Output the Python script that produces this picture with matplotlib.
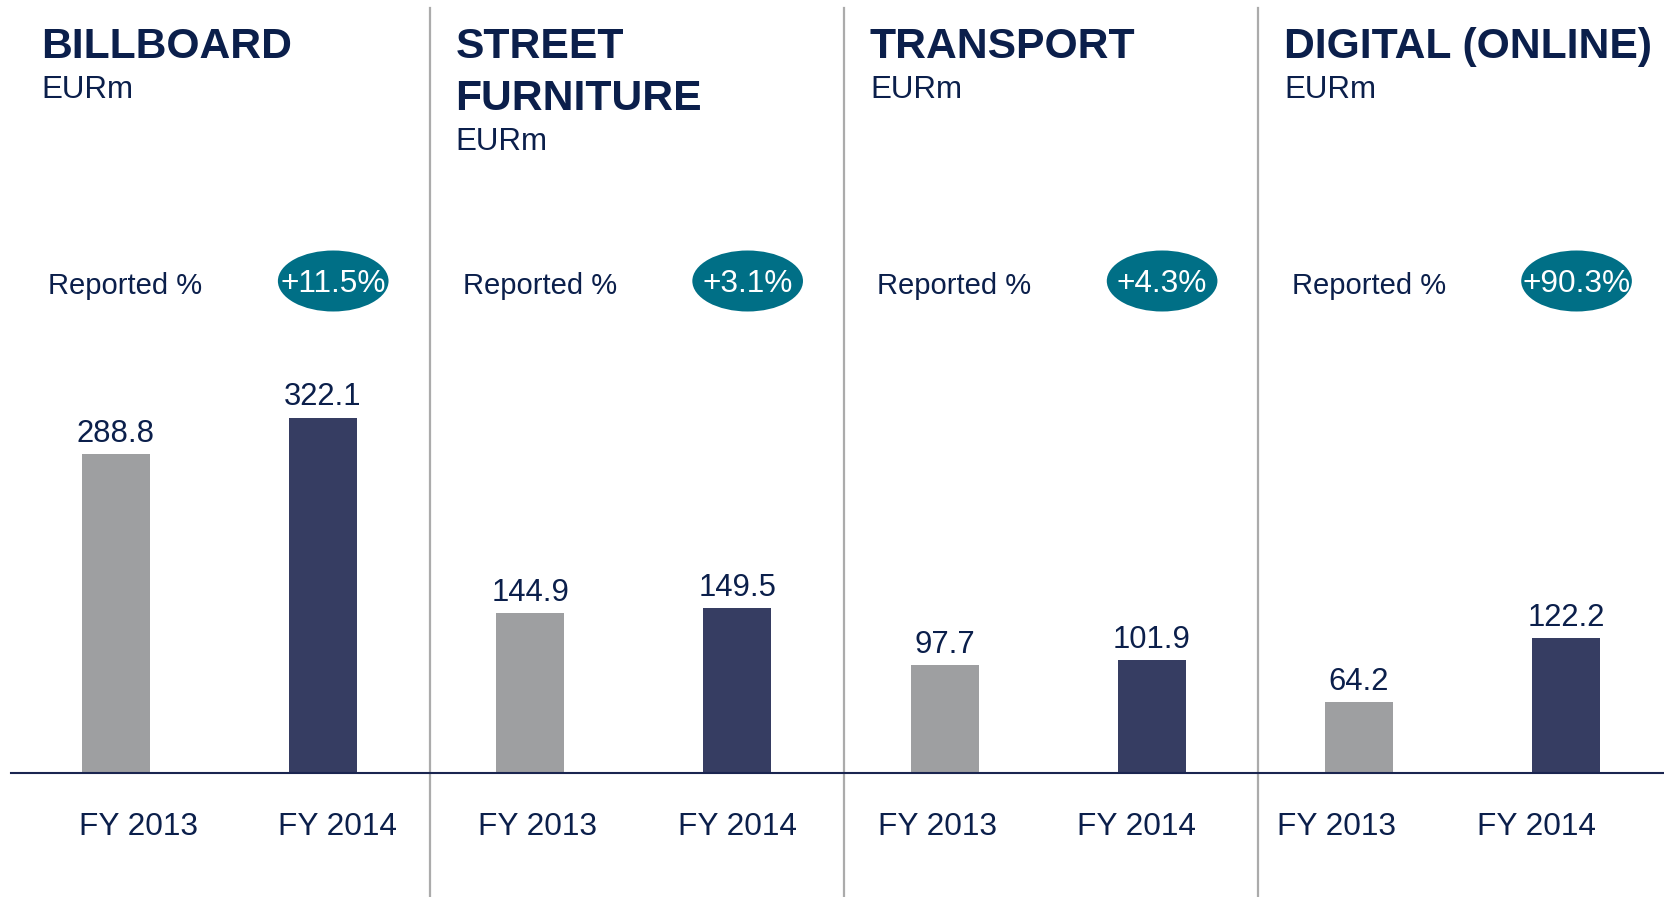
import numpy as np
import matplotlib
matplotlib.use('Agg')
import matplotlib.pyplot as plt
from matplotlib.patches import Ellipse
from matplotlib.transforms import blended_transform_factory

plt.rcParams['font.family'] = ['Liberation Sans', 'DejaVu Sans']

# 数据
segments = ['BILLBOARD', 'STREET\nFURNITURE', 'TRANSPORT', 'DIGITAL (ONLINE)']
fy2013 = [288.8, 144.9, 97.7, 64.2]
fy2014 = [322.1, 149.5, 101.9, 122.2]
growth = ['+11.5%', '+3.1%', '+4.3%', '+90.3%']
years = ['FY 2013', 'FY 2014']

navy_text = '#0b1f4b'
grey_bar = '#9e9fa1'
navy_bar = '#363d62'
teal = '#006f86'

W, H = 1664, 897
fig = plt.figure(figsize=(W / 100, H / 100), dpi=100)
ax = fig.add_axes([0, 0, 1, 1])
ax.set_xlim(-0.558, 7.472)
ax.set_ylim(-112.8, 700.8)
ax.axis('off')

# x 用数据坐标, y 用轴坐标 (从顶部像素换算)
tr = blended_transform_factory(ax.transData, ax.transAxes)


def yf(px):
    return 1 - px / H


x13 = np.arange(len(segments)) * 2
x14 = x13 + 1
ax.bar(x13, fy2013, width=0.328, color=grey_bar, zorder=2)
ax.bar(x14, fy2014, width=0.328, color=navy_bar, zorder=2)

# 数值标签
for xs, vals in [(x13, fy2013), (x14, fy2014)]:
    for x, v in zip(xs, vals):
        ax.text(x, v + 11, f'{v:.1f}', ha='center', va='baseline',
                fontsize=22.3, color=navy_text)

# 底线与分隔线
ax.axhline(0, xmin=10.6 / W, xmax=1, color='#1a2550', lw=1.5, zorder=3)
for x in x14[:-1] + 0.515:
    ax.axvline(x, ymin=0, ymax=yf(8), color='#ababab', lw=1.6, zorder=1)

# 年份标签
label_x = np.linspace(0.108, 6.856, 8)
for k, lx in enumerate(label_x):
    ax.text(lx, yf(835), years[k % 2], transform=tr, ha='center',
            va='baseline', fontsize=22.8, color=navy_text)

# 标题、单位、增长率
for p, seg in enumerate(segments):
    x0 = x13[p] - 0.36
    lines = seg.split('\n')
    base = 58
    for j, line in enumerate(lines):
        ax.text(x0, yf(base + j * 51.7), line, transform=tr, ha='left',
                va='baseline', fontsize=30.7, fontweight='bold', color=navy_text)
    ax.text(x0, yf(base + (len(lines) - 1) * 51.7 + 40), 'EURm', transform=tr,
            ha='left', va='baseline', fontsize=22.5, color=navy_text)

    ax.text(x13[p] - 0.325, yf(294), 'Reported %', transform=tr, ha='left',
            va='baseline', fontsize=21, color=navy_text)
    ex = x14[p] + 0.05
    ax.add_patch(Ellipse((ex, yf(281)), 0.534, 61 / H, transform=tr,
                         facecolor=teal, edgecolor='none', zorder=2))
    ax.text(ex, yf(291.5), growth[p], transform=tr, ha='center',
            va='baseline', fontsize=22.8, color='white', zorder=3)

fig.savefig('out.png', dpi=100)
